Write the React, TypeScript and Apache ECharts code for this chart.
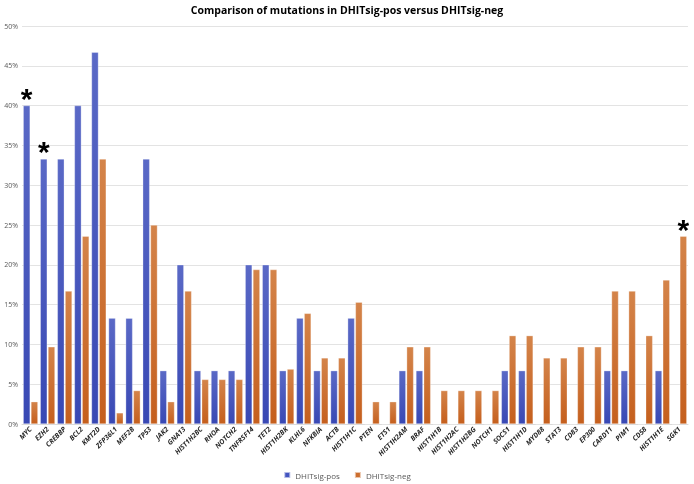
import React, { useEffect, useRef } from "react";
import * as echarts from "echarts";

const categories = [
  "MYC", "EZH2", "CREBBP", "BCL2", "KMT2D", "ZFP36L1", "MEF2B", "TP53", "JAK2", "GNA13",
  "HIST1H2BC", "RHOA", "NOTCH2", "TNFRSF14", "TET2", "HIST1H2BK", "KLHL6", "NFKBIA", "ACTB", "HIST1H1C",
  "PTEN", "ETS1", "HIST1H2AM", "BRAF", "HIST1H1B", "HIST1H2AC", "HIST1H2BG", "NOTCH1", "SOCS1", "HIST1H1D",
  "MYD88", "STAT3", "CD83", "EP300", "CARD11", "PIM1", "CD58", "HIST1H1E", "SGK1",
];

const posValues = [
  40, 33.3, 33.3, 40, 46.7, 13.3, 13.3, 33.3, 6.7, 20,
  6.7, 6.7, 6.7, 20, 20, 6.7, 13.3, 6.7, 6.7, 13.3,
  0, 0, 6.7, 6.7, 0, 0, 0, 0, 6.7, 6.7,
  0, 0, 0, 0, 6.7, 6.7, 0, 6.7, 0,
];

const negValues = [
  2.8, 9.7, 16.7, 23.6, 33.3, 1.4, 4.2, 25, 2.8, 16.7,
  5.6, 5.6, 5.6, 19.4, 19.4, 6.9, 13.9, 8.3, 8.3, 15.3,
  2.8, 2.8, 9.7, 9.7, 4.2, 4.2, 4.2, 4.2, 11.1, 11.1,
  8.3, 8.3, 9.7, 9.7, 16.7, 16.7, 11.1, 18.1, 23.6,
];

const posStarred = ["MYC", "EZH2"];
const negStarred = ["SGK1"];

const yTicks = [0, 5, 10, 15, 20, 25, 30, 35, 40, 45, 50];

export default function App() {
  const ref = useRef<HTMLDivElement>(null);
  useEffect(() => {
    if (!ref.current) return;
    const chart = echarts.init(ref.current, null, { renderer: "svg" });
    const blue = new echarts.graphic.LinearGradient(0, 0, 0, 1, [
      { offset: 0, color: "#5a69c6" },
      { offset: 1, color: "#3848b4" },
    ]);
    const orange = new echarts.graphic.LinearGradient(0, 0, 0, 1, [
      { offset: 0, color: "#d4844a" },
      { offset: 1, color: "#c55f1d" },
    ]);
    const star = {
      show: true,
      position: "top" as const,
      formatter: "*",
      fontSize: 30,
      fontWeight: "bold" as const,
      color: "#000",
      distance: -8,
      fontFamily: "Liberation Sans",
    };
    const mk = (vals: number[], starred: string[]) =>
      vals.map((v, i) =>
        starred.includes(categories[i]) ? { value: v, label: star } : v
      );
    chart.setOption({
      animation: false,
      title: {
        text: "Comparison of mutations in DHITsig-pos versus DHITsig-neg",
        left: "center",
        top: -1,
        textStyle: { fontSize: 10.5, fontWeight: "bold", color: "#000", fontFamily: "Open Sans" },
      },
      legend: {
        bottom: 0,
        left: "center",
        itemWidth: 6,
        itemHeight: 6,
        itemGap: 14,
        icon: "rect",
        textStyle: { fontSize: 8, color: "#595959", fontFamily: "Open Sans" },
        data: [
          { name: "DHITsig-pos", itemStyle: { color: "#4455c0" } },
          { name: "DHITsig-neg", itemStyle: { color: "#cc6e2e" } },
        ],
      },
      grid: { left: 22, right: 6, top: 26, bottom: 60 },
      xAxis: {
        type: "category",
        data: categories,
        axisTick: { show: false },
        axisLine: { lineStyle: { color: "#d9d9d9" } },
        axisLabel: {
          interval: 0,
          rotate: 45,
          fontSize: 7,
          fontStyle: "italic",
          fontWeight: "bold",
          color: "#262626",
          fontFamily: "Open Sans",
          margin: 4,
        },
      },
      yAxis: {
        type: "value",
        min: yTicks[0],
        max: yTicks[yTicks.length - 1],
        interval: 5,
        axisLabel: {
          fontSize: 7,
          color: "#595959",
          formatter: "{value}%",
          fontFamily: "Open Sans",
          margin: 4,
        },
        axisLine: { show: false },
        axisTick: { show: false },
        splitLine: { lineStyle: { color: "#e3e3e3" } },
      },
      series: [
        {
          name: "DHITsig-pos",
          type: "bar",
          data: mk(posValues, posStarred),
          barGap: "12%",
          barCategoryGap: "14%",
          itemStyle: { color: blue, borderColor: "rgba(255,255,255,0.6)", borderWidth: 0.5 },
        },
        {
          name: "DHITsig-neg",
          type: "bar",
          data: mk(negValues, negStarred),
          itemStyle: { color: orange, borderColor: "rgba(255,255,255,0.6)", borderWidth: 0.5 },
        },
      ],
    });
    return () => chart.dispose();
  }, []);
  return (
    <div
      ref={ref}
      style={{ position: "fixed", left: 0, top: 0, width: 694, height: 484 }}
    />
  );
}
